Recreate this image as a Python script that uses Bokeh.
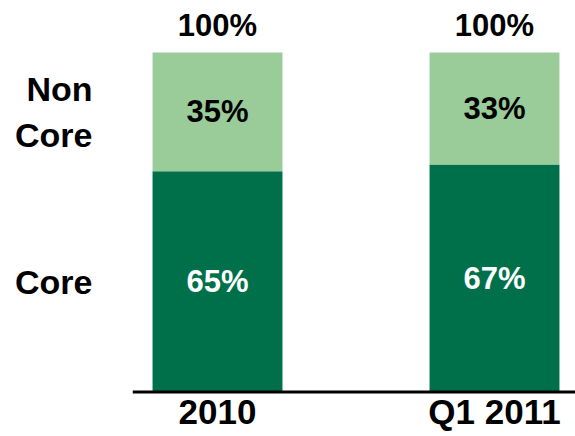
from bokeh.plotting import figure
from bokeh.models import ColumnDataSource, Range1d, FixedTicker, Span
from bokeh.core.properties import value
from bokeh.embed import file_html
from bokeh.resources import INLINE

categories = ["2010", "Q1 2011"]
core = [65, 67]
non_core = [35, 33]
series_names = ["Core", "Non\nCore"]
core_labels = ["65%", "67%"]
non_core_labels = ["35%", "33%"]
total_labels = ["100%", "100%"]

FONT = "Liberation Sans"
DARK = "#00704A"
LIGHT = "#99CC99"

xs = list(range(len(categories)))
totals = [c + n for c, n in zip(core, non_core)]
mid_core = [c / 2 for c in core]
mid_non = [c + n / 2 for c, n in zip(core, non_core)]
base = [0 for _ in xs]

src = ColumnDataSource(dict(
    x=xs, core=core, top=totals, mid_core=mid_core, mid_non=mid_non, base=base,
    core_lbl=core_labels, non_lbl=non_core_labels, tot_lbl=total_labels, cat=categories,
))

p = figure(width=575, height=436, output_backend="svg", toolbar_location=None,
           x_range=Range1d(-0.3069, 1.2924), y_range=Range1d(-13.11, 115.32),
           min_border_left=132, min_border_right=0, min_border_top=0,
           min_border_bottom=0)
p.outline_line_color = None
p.grid.visible = False
p.background_fill_color = "white"
p.border_fill_color = "white"
p.xaxis.visible = False

bw = 0.469
p.vbar(x="x", bottom=0, top="core", width=bw, fill_color=DARK, line_color=None, source=src)
p.vbar(x="x", bottom="core", top="top", width=bw, fill_color=LIGHT, line_color=None, source=src)

p.add_layout(Span(location=0, dimension="width", line_color="black", line_width=3))

common = dict(text_align="center", text_font=value(FONT), text_font_style="bold",
              text_baseline="middle", source=src)
p.text(x="x", y="mid_core", text="core_lbl", text_color="white",
       text_font_size="31px", **common)
p.text(x="x", y="mid_non", text="non_lbl", text_color="black",
       text_font_size="31px", **common)
p.text(x="x", y="top", text="tot_lbl", text_color="black", y_offset=-27,
       text_font_size="31px", **common)
p.text(x="x", y="base", text="cat", text_color="black", y_offset=20,
       text_font_size="35px", **common)

ya = p.yaxis[0]
yticks = [mid_core[0], mid_non[0]]
ya.ticker = FixedTicker(ticks=yticks)
ya.major_label_overrides = {t: s for t, s in zip(yticks, series_names)}
ya.axis_line_color = None
ya.major_tick_line_color = None
ya.minor_tick_line_color = None
ya.major_label_standoff = 34
ya.major_label_text_font = FONT
ya.major_label_text_font_style = "bold"
ya.major_label_text_font_size = "34px"
ya.major_label_text_color = "black"

open("out.html", "w").write(file_html(p, INLINE))
